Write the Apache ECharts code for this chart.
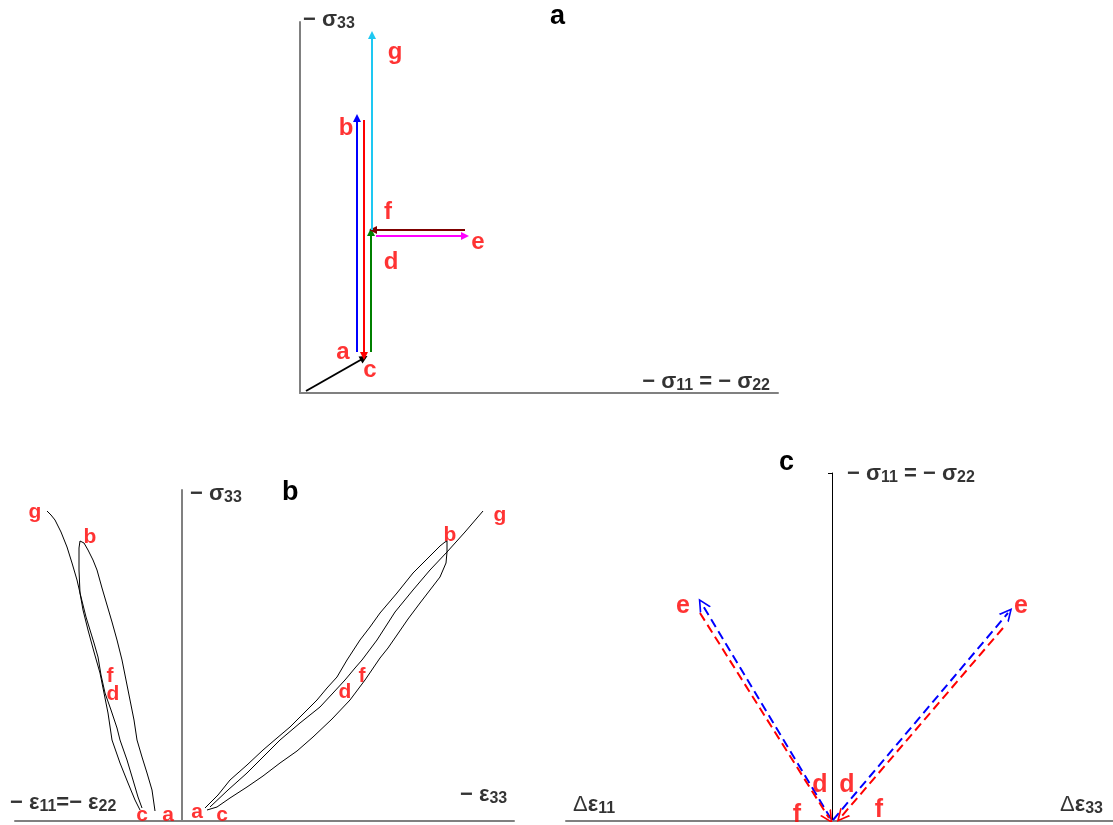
<!DOCTYPE html>
<html>
<head>
<meta charset="utf-8">
<script src="https://cdn.jsdelivr.net/npm/echarts@6/dist/echarts.min.js"></script>
<style>
  html, body { margin: 0; padding: 0; background: #fff; }
  #chart { width: 1113px; height: 825px; }
</style>
</head>
<body>
<div id="chart"></div>
<script>
// panel a: stress path, arrows in (-σ11, -σ33) plane
const aSteps = ["O-a", "a-b", "b-c", "c-d", "d-e", "e-f", "f-g"];
const aStart = [[6, 2], [57, 41], [64, 273], [71, 41], [76, 157], [165, 163], [72, 163]];
const aEnd = [[64, 35], [57, 275], [64, 37], [71, 161], [165, 157], [73, 163], [72, 358]];
const aPoints = [["a", 43, 41], ["b", 46, 265], ["c", 70, 23], ["d", 91, 131], ["e", 178, 151], ["f", 88, 181], ["g", 95, 341]];

// panel b: strain response curves
const bLeftLoad = [[-27, 10], [-30, 31], [-35, 48], [-40, 64], [-45, 81], [-48, 101], [-52, 121], [-56, 141], [-60, 161], [-65, 181], [-70, 199], [-75, 216], [-80, 233], [-85, 251], [-89, 261], [-94, 271], [-98, 278], [-102, 280]];
const bLeftUnload = [[-102, 280], [-103, 273], [-103, 251], [-102, 228], [-99, 211], [-94, 191], [-88, 169], [-82, 148], [-78, 128], [-74, 108], [-70, 81], [-62, 58], [-54, 38], [-47, 21], [-42, 11]];
const bLeftReload = [[-40, 13], [-44, 24], [-49, 41], [-55, 61], [-62, 81], [-65, 93], [-71, 111], [-77, 128], [-81, 146], [-84, 164], [-88, 178], [-92, 191], [-96, 204], [-99, 216], [-102, 228], [-105, 241], [-110, 258], [-115, 274], [-121, 289], [-127, 301], [-131, 306], [-135, 310]];
const bRightLoad = [[23, 13], [36, 26], [48, 41], [65, 56], [81, 71], [95, 83], [108, 94], [122, 108], [135, 121], [145, 133], [155, 144], [165, 161], [178, 181], [188, 194], [198, 208], [215, 228], [231, 248], [248, 265], [258, 275], [263, 279], [265, 280]];
const bRightUnload = [[265, 280], [265, 269], [264, 258], [258, 244], [248, 231], [238, 218], [226, 202], [215, 186], [206, 173], [198, 163], [183, 141], [168, 121], [150, 102], [131, 84], [115, 70], [98, 58], [81, 45], [65, 34], [48, 23], [35, 14], [25, 11]];
const bRightReload = [[28, 14], [46, 31], [65, 48], [81, 64], [98, 81], [118, 98], [138, 114], [151, 128], [163, 141], [173, 153], [180, 161], [195, 181], [213, 209], [231, 231], [248, 251], [265, 269], [283, 289], [301, 310]];
const bPoints = [["g", -147, 309], ["b", -92, 284], ["f", -72, 145], ["d", -69, 127], ["c", -40, 6], ["a", -14, 6], ["a", 15, 9], ["c", 40, 6], ["d", 163, 129], ["f", 180, 145], ["b", 268, 286], ["g", 318, 306]];

// panel c: strain increment directions
const cSteps = ["d-e ε11", "e-f ε11", "d-e ε33", "e-f ε33"];
const cStart = [[-1, 2], [-132, 208], [1, 1], [171, 193]];
const cEnd = [[-130, 217], [-3, 3], [176, 208], [9, 4]];
const cPoints = [["e", -149, 215], ["e", 189, 215], ["d", -12, 36], ["d", 15, 36], ["f", -35, 6], ["f", 47, 11]];

// axis captions (left-anchored / right-anchored)
const axisTextsLeft = [
  [0, 3, 373, "{m|− σ}{s|33}"],
  [1, 8, 327, "{m|− σ}{s|33}"],
  [1, -172, 18, "{m|− ε}{s|11}{m|=− ε}{s|22}"],
  [1, 278, 26, "{m|− ε}{s|33}"],
  [2, 15, 347, "{m|− σ}{s|11}{m| = − σ}{s|22}"],
  [2, -259, 16, "{d|Δ}{m|ε}{s|11}"],
  [2, 228, 16, "{d|Δ}{m|ε}{s|33}"]
];
const axisTextsRight = [
  [0, 470, 11, "{m|− σ}{s|11}{m| = − σ}{s|22}"]
];

const FONT = "Liberation Sans";
const colorsA = ["#000000", "#0000ff", "#ff0000", "#008000", "#ff00ff", "#800000", "#1ec8f2"];
const colorsC = ["#0000ff", "#ff0000", "#0000ff", "#ff0000"];
const chevron = "path://M0,10 L5,0 L10,10 L8.6,10 L5,2.8 L1.4,10 Z";

const richText = {
  m: { fontFamily: FONT, fontSize: 22, fontWeight: "bold", color: "#000", lineHeight: 26 },
  s: { fontFamily: FONT, fontSize: 16, fontWeight: "bold", color: "#000", lineHeight: 26, padding: [8, 0, 0, 0] },
  d: { fontFamily: FONT, fontSize: 22, color: "#000", lineHeight: 26 }
};

const pointLabels = (pts, idx, size) => ({
  type: "scatter",
  xAxisIndex: idx,
  yAxisIndex: idx,
  symbolSize: 0,
  clip: false,
  silent: true,
  data: pts.map(p => ({ name: p[0], value: [p[1], p[2]] })),
  label: {
    show: true,
    position: "inside",
    formatter: "{b}",
    color: "#ff0000",
    textBorderWidth: 0,
    fontFamily: FONT,
    fontWeight: "bold",
    fontSize: size
  }
});

const axisCaptions = (items, idx, pos) => ({
  type: "scatter",
  xAxisIndex: idx,
  yAxisIndex: idx,
  symbolSize: 0,
  clip: false,
  silent: true,
  data: items.filter(t => t[0] === idx).map(t => ({ name: t[3], value: [t[1], t[2]] })),
  label: {
    show: true,
    position: pos,
    distance: 0,
    formatter: "{b}",
    color: "#000",
    textBorderWidth: 0,
    rich: richText
  }
});

const curve = (data) => ({
  type: "line",
  xAxisIndex: 1,
  yAxisIndex: 1,
  data: data,
  showSymbol: false,
  symbol: "none",
  lineStyle: { color: "#000", width: 1 },
  silent: true
});

const axisCommon = (extra) => Object.assign({
  type: "value",
  splitLine: { show: false },
  axisLabel: { show: false },
  axisTick: { show: false }
}, extra);

const grey = { color: "#808080", width: 2 };

const option = {
  animation: false,
  backgroundColor: "#fff",
  title: [
    { text: "a", left: 550, top: 3, padding: 0, textStyle: { fontFamily: FONT, fontSize: 27, fontWeight: "bold", color: "#000" } },
    { text: "b", left: 282, top: 479, padding: 0, textStyle: { fontFamily: FONT, fontSize: 27, fontWeight: "bold", color: "#000" } },
    { text: "c", left: 779, top: 449, padding: 0, textStyle: { fontFamily: FONT, fontSize: 27, fontWeight: "bold", color: "#000" } }
  ],
  grid: [
    { left: 300, top: 22, width: 478, height: 371 },
    { left: 15, top: 490, width: 499, height: 331 },
    { left: 566, top: 473, width: 547, height: 348 }
  ],
  xAxis: [
    axisCommon({ gridIndex: 0, min: 0, max: 478, axisLine: { lineStyle: grey } }),
    axisCommon({ gridIndex: 1, min: -167, max: 332, axisLine: { lineStyle: grey } }),
    axisCommon({ gridIndex: 2, min: -266, max: 281, axisLine: { lineStyle: grey } })
  ],
  yAxis: [
    axisCommon({ gridIndex: 0, min: 0, max: 371, axisLine: { lineStyle: grey } }),
    axisCommon({ gridIndex: 1, min: 0, max: 331, axisLine: { lineStyle: grey } }),
    axisCommon({ gridIndex: 2, min: 0, max: 348, axisLine: { lineStyle: { color: "#000", width: 1 } },
      axisTick: { show: true, customValues: [348], length: 4, lineStyle: { color: "#000" } } })
  ],
  series: [
    {
      type: "lines",
      coordinateSystem: "cartesian2d",
      xAxisIndex: 0,
      yAxisIndex: 0,
      silent: true,
      symbol: ["none", "triangle"],
      symbolSize: 8,
      lineStyle: { width: 2, opacity: 1 },
      data: aSteps.map((s, i) => ({ name: s, coords: [aStart[i], aEnd[i]], lineStyle: { color: colorsA[i] } }))
    },
    pointLabels(aPoints, 0, 24),
    axisCaptions(axisTextsLeft, 0, "right"),
    axisCaptions(axisTextsRight, 0, "left"),

    curve(bLeftLoad),
    curve(bLeftUnload),
    curve(bLeftReload),
    curve(bRightLoad),
    curve(bRightUnload),
    curve(bRightReload),
    pointLabels(bPoints, 1, 21),
    axisCaptions(axisTextsLeft, 1, "right"),

    {
      type: "lines",
      coordinateSystem: "cartesian2d",
      xAxisIndex: 2,
      yAxisIndex: 2,
      silent: true,
      symbol: ["none", chevron],
      symbolSize: 13,
      lineStyle: { width: 2, type: [9, 5], opacity: 1 },
      data: cSteps.map((s, i) => ({ name: s, coords: [cStart[i], cEnd[i]], lineStyle: { color: colorsC[i] } }))
    },
    pointLabels(cPoints, 2, 25),
    axisCaptions(axisTextsLeft, 2, "right")
  ]
};

const chart = echarts.init(document.getElementById("chart"));
chart.setOption(option);
</script>
</body>
</html>
